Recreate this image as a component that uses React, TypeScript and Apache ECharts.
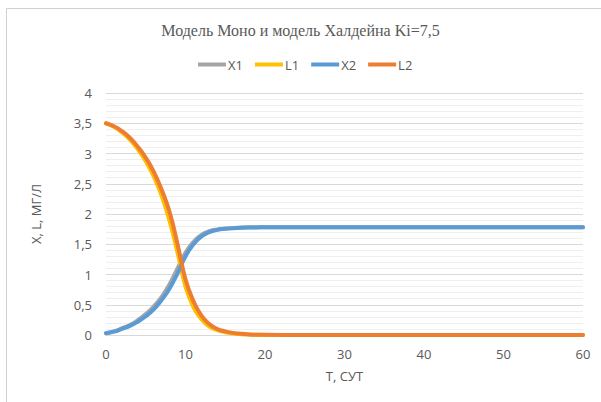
import React, { useEffect, useRef } from "react";
import * as echarts from "echarts";

const tValues = [0, 1, 2, 3, 4, 5, 6, 7, 8, 9, 10, 11, 12, 13, 14, 15, 16, 17, 18, 19, 20, 25, 30, 35, 40, 45, 50, 55, 60];
const x1Values = [0.03, 0.06, 0.11, 0.165, 0.245, 0.345, 0.47, 0.63, 0.84, 1.1, 1.36, 1.54, 1.655, 1.715, 1.745, 1.76, 1.77, 1.775, 1.78, 1.78, 1.78, 1.78, 1.78, 1.78, 1.78, 1.78, 1.78, 1.78, 1.78];
const l1Values = [3.5, 3.44, 3.35, 3.23, 3.07, 2.87, 2.62, 2.3, 1.88, 1.36, 0.8, 0.46, 0.26, 0.14, 0.08, 0.045, 0.025, 0.013, 0.007, 0.004, 0.002, 0.001, 0, 0, 0, 0, 0, 0, 0];
const x2Values = [0.03, 0.055, 0.1, 0.15, 0.22, 0.31, 0.425, 0.58, 0.77, 1.02, 1.3, 1.5, 1.63, 1.7, 1.737, 1.755, 1.765, 1.772, 1.776, 1.778, 1.78, 1.78, 1.78, 1.78, 1.78, 1.78, 1.78, 1.78, 1.78];
const l2Values = [3.5, 3.45, 3.37, 3.26, 3.11, 2.93, 2.7, 2.4, 2.03, 1.5, 0.92, 0.56, 0.32, 0.18, 0.1, 0.06, 0.035, 0.02, 0.01, 0.005, 0.003, 0.001, 0, 0, 0, 0, 0, 0, 0];

const seriesNames = ["X1", "L1", "X2", "L2"];
const seriesColors = ["#A5A5A5", "#FFC000", "#5B9BD5", "#ED7D31"];
const seriesValues = [x1Values, l1Values, x2Values, l2Values];

const titleText = "Модель Моно и модель Халдейна Ki=7,5";
const xAxisName = "T, СУТ";
const yAxisName = "X, L, МГ/Л";

export default function App() {
  const ref = useRef<HTMLDivElement>(null);
  useEffect(() => {
    if (!ref.current) return;
    const chart = echarts.init(ref.current, null, { renderer: "svg" });
    const fmt = (v: number) => String(v).replace(".", ",");
    chart.setOption({
      animation: false,
      backgroundColor: "#ffffff",
      title: {
        text: titleText,
        left: "center",
        top: 17,
        textStyle: {
          fontFamily: "Liberation Serif",
          fontSize: 16,
          fontWeight: "normal",
          color: "#595959",
        },
      },
      legend: {
        top: 58,
        left: 198,
        padding: 0,
        itemWidth: 28,
        itemHeight: 4,
        itemGap: 12,
        icon: "rect",
        textStyle: { fontFamily: "Open Sans", fontSize: 13, color: "#595959", padding: [0, 0, 0, -3] },
        data: seriesNames,
      },
      grid: { left: 106, right: 18, top: 93, bottom: 67 },
      xAxis: {
        type: "value",
        min: 0,
        max: 60,
        interval: 10,
        name: xAxisName,
        nameLocation: "middle",
        nameGap: 34,
        nameTextStyle: { fontFamily: "Open Sans", fontSize: 13, color: "#595959" },
        axisLine: { show: true, lineStyle: { color: "#d9d9d9" } },
        axisTick: { show: false },
        splitLine: { show: false },
        axisLabel: { fontFamily: "Open Sans", fontSize: 13, color: "#595959", margin: 12 },
      },
      yAxis: {
        type: "value",
        min: 0,
        max: 4,
        interval: 0.5,
        name: yAxisName,
        nameLocation: "middle",
        nameGap: 64,
        nameTextStyle: { fontFamily: "Open Sans", fontSize: 13, color: "#595959" },
        axisLine: { show: false },
        axisTick: { show: false },
        axisLabel: { fontFamily: "Open Sans", fontSize: 13, color: "#595959", margin: 14, formatter: fmt },
        splitLine: { show: true, lineStyle: { color: "#d9d9d9", width: 1 } },
        minorTick: { show: false, splitNumber: 5 },
        minorSplitLine: { show: true, lineStyle: { color: "#efefef", width: 1 } },
      },
      series: seriesNames.map((name, i) => ({
        name,
        type: "line",
        data: tValues.map((t, j) => [t, seriesValues[i][j]]),
        smooth: true,
        showSymbol: false,
        symbol: "none",
        lineStyle: { width: 4, color: seriesColors[i], cap: "round" },
        itemStyle: { color: seriesColors[i] },
      })),
      graphic: [
        { type: "line", shape: { x1: 6.5, y1: 8.5, x2: 601, y2: 8.5 }, style: { stroke: "#d0d0d0", lineWidth: 1 } },
        { type: "line", shape: { x1: 6.5, y1: 8.5, x2: 6.5, y2: 402 }, style: { stroke: "#d0d0d0", lineWidth: 1 } },
      ],
    });
    return () => chart.dispose();
  }, []);
  return <div ref={ref} style={{ width: 601, height: 402, position: "absolute", left: 0, top: 0 }} />;
}
